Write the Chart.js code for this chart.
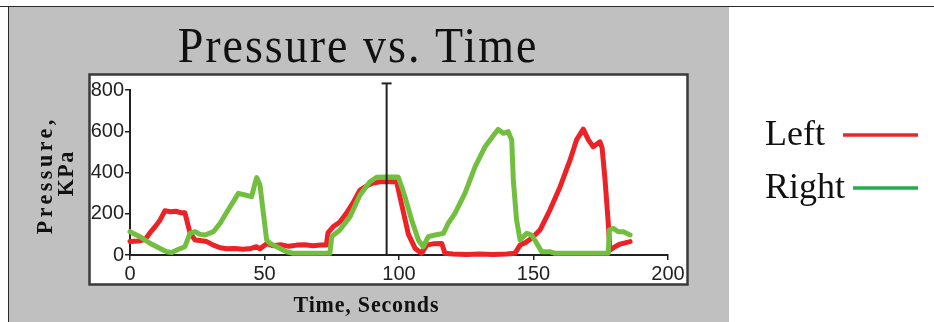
<!DOCTYPE html>
<html>
<head>
<meta charset="utf-8">
<title>Pressure vs. Time</title>
<script src="https://cdn.jsdelivr.net/npm/chart.js@4.4.1/dist/chart.umd.min.js"></script>
<style>
  html, body { margin: 0; padding: 0; background: #fff; }
</style>
</head>
<body>
<canvas id="myChart" width="934" height="322"></canvas>
<script>
// values (time in seconds, pressure in KPa)
const leftTime = [0, 3, 5.6, 7.4, 9.5, 11.2, 13, 15, 17, 19, 20.4, 22.3, 24.2, 26, 28.5, 31, 33.5, 36, 39, 42, 45, 47, 48.3, 50.8, 53, 56, 59, 62, 65, 68, 71, 73, 73.6, 75.5, 78, 80.5, 83, 85.5, 88, 90.3, 93, 96, 99.1, 101.6, 103.5, 106, 108.4, 110.3, 113, 115.9, 117.1, 120, 125, 130, 135, 140, 143.1, 145, 147, 149.3, 152.4, 156.1, 159.9, 163.6, 166, 168.5, 170.4, 172.2, 174.7, 175.5, 176.6, 177.8, 178.4, 180.3, 182.2, 185.9];
const leftPressure = [65, 68, 75, 107, 140, 170, 215, 210, 212, 205, 205, 107, 73, 70, 65, 48, 35, 30, 32, 28, 32, 40, 30, 55, 45, 50, 42, 48, 50, 45, 48, 48, 107, 137, 160, 203, 255, 315, 335, 349, 355, 355, 355, 210, 100, 32, 8, 48, 55, 56, 8, 5, 3, 5, 3, 5, 8, 48, 60, 81, 121, 218, 331, 461, 558, 610, 558, 525, 549, 520, 364, 154, 24, 40, 53, 65];

const rightTime = [0, 3.7, 7.4, 11.2, 13.6, 15.5, 17.4, 20.4, 22.3, 24.2, 26, 27.9, 31, 33.5, 37.2, 40.3, 42.8, 45.2, 46.5, 47.1, 48.3, 49.6, 50.8, 52, 53.3, 55.8, 58.2, 60.7, 65, 70, 74.3, 75, 78, 81.8, 85.5, 89.2, 91.7, 95, 99.7, 101, 102.2, 104.7, 107.2, 109, 110.9, 113.4, 116.5, 118.3, 120.8, 124.5, 128.3, 132, 135.7, 136.9, 138.8, 140.6, 141.9, 142.5, 143.7, 145, 147.5, 149.3, 151.2, 153, 156.1, 158, 165, 170, 177.8, 178.2, 179.7, 181.5, 183.4, 184.6, 185.9];
const rightPressure = [113, 89, 57, 32, 16, 12, 24, 40, 105, 113, 100, 97, 113, 154, 234, 299, 291, 283, 348, 375, 340, 202, 73, 57, 48, 32, 16, 8, 8, 8, 8, 89, 121, 186, 291, 355, 377, 378, 378, 331, 283, 170, 73, 40, 89, 97, 105, 154, 202, 299, 428, 525, 590, 609, 590, 598, 558, 364, 170, 73, 105, 97, 57, 16, 16, 8, 8, 8, 8, 121, 129, 113, 113, 105, 97];

const seriesNames = ['Left', 'Right'];
const lineColors = ['#ec2227', '#72bf40'];
const legendColors = ['#e8262b', '#22ad4c'];

// cursor line in the plot
const markerTime = 95.4;
const markerTop = 832;

const xTicks = [0, 50, 100, 150, 200];
const yTicks = [0, 200, 400, 600, 800];

function toPoints(xs, ys) {
    return xs.map(function (x, i) { return {x: x, y: ys[i]}; });
}

// draw text with an optional stretch, the original fonts are tall and narrow
function stretchedText(ctx, text, x, y, font, spacing, sx, sy, rot) {
    ctx.save();
    ctx.translate(x, y);
    if (rot) ctx.rotate(rot);
    ctx.scale(sx, sy);
    ctx.font = font;
    ctx.letterSpacing = spacing + 'px';
    ctx.fillText(text, spacing / 2, 0);
    ctx.restore();
}

const panelPlugin = {
    id: 'panel',
    beforeDraw: function (chart) {
        const ctx = chart.ctx;
        ctx.save();
        ctx.fillStyle = '#ffffff';
        ctx.fillRect(0, 0, chart.width, chart.height);
        // grey panel
        ctx.fillStyle = '#c0c0c0';
        ctx.fillRect(9, 7, 720, 315);
        ctx.fillStyle = '#2a2a2a';
        ctx.fillRect(0, 6, chart.width, 1);
        ctx.fillRect(8, 6, 1, 316);
        // white plot box
        ctx.fillStyle = '#ffffff';
        ctx.fillRect(89, 74, 599, 211);
        ctx.strokeStyle = '#3a3a3a';
        ctx.lineWidth = 2.5;
        ctx.strokeRect(89.5, 74.5, 598, 210);
        ctx.restore();
    },
    afterDraw: function (chart) {
        const ctx = chart.ctx;
        ctx.save();
        ctx.fillStyle = '#111';
        ctx.textAlign = 'center';
        ctx.textBaseline = 'alphabetic';
        stretchedText(ctx, 'Pressure vs. Time', 357, 62, '46px "Liberation Serif"', 2, 1, 1.08, 0);
        stretchedText(ctx, 'Time, Seconds', 366, 312, 'bold 22px "Liberation Serif"', 0.8, 1, 1.05, 0);
        ctx.textBaseline = 'middle';
        stretchedText(ctx, 'Pressure,', 46, 177, 'bold 22px "Liberation Serif"', 3.5, 1, 1.05, -Math.PI / 2);
        stretchedText(ctx, 'KPa', 67, 174, 'bold 22px "Liberation Serif"', 1.5, 1, 1.05, -Math.PI / 2);

        // legend: label then a short line
        ctx.textAlign = 'left';
        ctx.textBaseline = 'alphabetic';
        ctx.font = '36px "Liberation Serif"';
        ctx.fillStyle = '#111';
        const rows = [{y: 145, line: 135, x0: 843}, {y: 198, line: 188, x0: 853}];
        seriesNames.forEach(function (name, i) {
            ctx.fillText(name, 765, rows[i].y);
            ctx.strokeStyle = legendColors[i];
            ctx.lineWidth = 3.5;
            ctx.beginPath();
            ctx.moveTo(rows[i].x0, rows[i].line);
            ctx.lineTo(918, rows[i].line);
            ctx.stroke();
        });
        ctx.restore();
    }
};

const ctx = document.getElementById('myChart').getContext('2d');
const myChart = new Chart(ctx, {
    type: 'scatter',
    data: {
        datasets: [{
            label: seriesNames[0],
            data: toPoints(leftTime, leftPressure),
            showLine: true,
            borderColor: lineColors[0],
            backgroundColor: lineColors[0],
            borderWidth: 5,
            borderJoinStyle: 'round',
            borderCapStyle: 'round',
            pointRadius: 0,
            tension: 0,
            clip: false,
            order: 2
        },
            {
                label: seriesNames[1],
                data: toPoints(rightTime, rightPressure),
                showLine: true,
                borderColor: lineColors[1],
                backgroundColor: lineColors[1],
                borderWidth: 5,
                borderJoinStyle: 'round',
                borderCapStyle: 'round',
                pointRadius: 0,
                tension: 0,
                clip: false,
                order: 1
            },
            {
                label: 'marker',
                data: [{x: markerTime, y: 0}, {x: markerTime, y: markerTop}],
                showLine: true,
                borderColor: '#222',
                borderWidth: 2,
                pointStyle: 'line',
                pointRadius: [0, 5],
                pointBorderWidth: 2,
                pointBorderColor: '#222',
                clip: false,
                order: 0
            }]
    },
    options: {
        responsive: false,
        animation: false,
        layout: {
            padding: {left: 90, top: 90, right: 266, bottom: 37}
        },
        plugins: {
            legend: {display: false},
            title: {display: false},
            tooltip: {enabled: false}
        },
        scales: {
            x: {
                type: 'linear',
                min: 0,
                max: 200,
                afterFit: function (scale) { scale.height = 30; },
                afterBuildTicks: function (scale) {
                    scale.ticks = xTicks.map(function (v) { return {value: v}; });
                },
                ticks: {
                    color: '#222',
                    padding: 2,
                    maxRotation: 0,
                    font: {family: '"Liberation Sans Narrow", "Liberation Sans"', size: 20}
                },
                grid: {
                    drawOnChartArea: false,
                    tickLength: 5,
                    color: '#222',
                    lineWidth: 1.5
                },
                border: {color: '#222', width: 2}
            },
            y: {
                type: 'linear',
                min: 0,
                max: 800,
                afterFit: function (scale) { scale.width = 40; },
                afterBuildTicks: function (scale) {
                    scale.ticks = yTicks.map(function (v) { return {value: v}; });
                },
                ticks: {
                    color: '#222',
                    padding: 1,
                    font: {family: '"Liberation Sans Narrow", "Liberation Sans"', size: 20}
                },
                grid: {
                    drawOnChartArea: false,
                    tickLength: 5,
                    color: '#222',
                    lineWidth: 1.5
                },
                border: {color: '#222', width: 2}
            }
        }
    },
    plugins: [panelPlugin]
});
</script>
</body>
</html>
